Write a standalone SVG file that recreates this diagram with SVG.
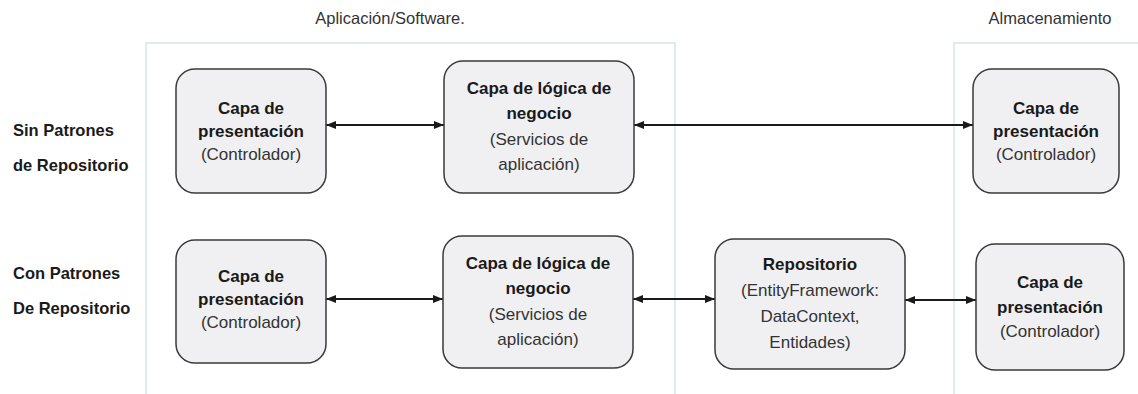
<svg xmlns="http://www.w3.org/2000/svg" width="1138" height="394" viewBox="0 0 1138 394">
  <defs>
    <marker id="ah" viewBox="0 0 10 8" refX="10" refY="4" markerWidth="10" markerHeight="8" markerUnits="userSpaceOnUse" orient="auto-start-reverse">
      <path d="M0,0 L10,4 L0,8 z" fill="#1a1a1a"/>
    </marker>
    <style>
      .container { fill: #ffffff; stroke: #e2eaf1; stroke-width: 2; }
      .node { fill: #f0f0f2; stroke: #3a3a3a; stroke-width: 1.5; }
      .title { font-family: "Liberation Sans", Arial, sans-serif; font-size: 16.5px; fill: #333333; text-anchor: middle; }
      .label { font-family: "Liberation Sans", Arial, sans-serif; font-size: 16.5px; font-weight: bold; fill: #1a1a1a; }
      .b { font-family: "Liberation Sans", Arial, sans-serif; font-size: 17px; font-weight: bold; fill: #1a1a1a; text-anchor: middle; }
      .r { font-family: "Liberation Sans", Arial, sans-serif; font-size: 17px; fill: #333333; text-anchor: middle; }
      .conn { stroke: #1a1a1a; stroke-width: 2; fill: none; marker-start: url(#ah); marker-end: url(#ah); }
    </style>
  </defs>

  <rect width="1138" height="394" fill="#ffffff"/>

  <g id="containers">
    <rect class="container" x="146" y="43" width="529" height="370"/>
    <rect class="container" x="954" y="43" width="200" height="370"/>
  </g>

  <g id="headers">
    <text class="title" x="390" y="24">Aplicación/Software.</text>
    <text class="title" x="1050" y="24">Almacenamiento</text>
  </g>

  <g id="row-labels">
    <text class="label" x="13" y="136">Sin Patrones</text>
    <text class="label" x="13" y="171">de Repositorio</text>
    <text class="label" x="13" y="279">Con Patrones</text>
    <text class="label" x="13" y="314">De Repositorio</text>
  </g>

  <g id="connectors">
    <line class="conn" x1="326" y1="125" x2="444" y2="125"/>
    <line class="conn" x1="634" y1="125" x2="973" y2="125"/>
    <line class="conn" x1="326" y1="299" x2="443" y2="299"/>
    <line class="conn" x1="633" y1="299" x2="715" y2="299"/>
    <line class="conn" x1="905" y1="300" x2="976" y2="300"/>
  </g>

  <g id="r1-presentacion">
    <rect class="node" x="176" y="69" width="150" height="124" rx="19"/>
    <text class="b" x="251" y="114">Capa de</text>
    <text class="b" x="251" y="137">presentación</text>
    <text class="r" x="251" y="160">(Controlador)</text>
  </g>

  <g id="r1-logica">
    <rect class="node" x="444" y="61" width="190" height="132" rx="19"/>
    <text class="b" x="539" y="94">Capa de lógica de</text>
    <text class="b" x="539" y="119">negocio</text>
    <text class="r" x="539" y="145">(Servicios de</text>
    <text class="r" x="539" y="170">aplicación)</text>
  </g>

  <g id="r1-almacenamiento">
    <rect class="node" x="973" y="69" width="146" height="124" rx="19"/>
    <text class="b" x="1046" y="114">Capa de</text>
    <text class="b" x="1046" y="137">presentación</text>
    <text class="r" x="1046" y="160">(Controlador)</text>
  </g>

  <g id="r2-presentacion">
    <rect class="node" x="176" y="240" width="150" height="123" rx="19"/>
    <text class="b" x="251" y="282">Capa de</text>
    <text class="b" x="251" y="305">presentación</text>
    <text class="r" x="251" y="328">(Controlador)</text>
  </g>

  <g id="r2-logica">
    <rect class="node" x="443" y="236" width="190" height="132" rx="19"/>
    <text class="b" x="538" y="269">Capa de lógica de</text>
    <text class="b" x="538" y="294">negocio</text>
    <text class="r" x="538" y="320">(Servicios de</text>
    <text class="r" x="538" y="345">aplicación)</text>
  </g>

  <g id="r2-repositorio">
    <rect class="node" x="715" y="239" width="190" height="130" rx="19"/>
    <text class="b" x="810" y="270">Repositorio</text>
    <text class="r" x="810" y="296">(EntityFramework:</text>
    <text class="r" x="810" y="322">DataContext,</text>
    <text class="r" x="810" y="348">Entidades)</text>
  </g>

  <g id="r2-almacenamiento">
    <rect class="node" x="976" y="244" width="148" height="126" rx="19"/>
    <text class="b" x="1050" y="288">Capa de</text>
    <text class="b" x="1050" y="313">presentación</text>
    <text class="r" x="1050" y="337">(Controlador)</text>
  </g>
</svg>
